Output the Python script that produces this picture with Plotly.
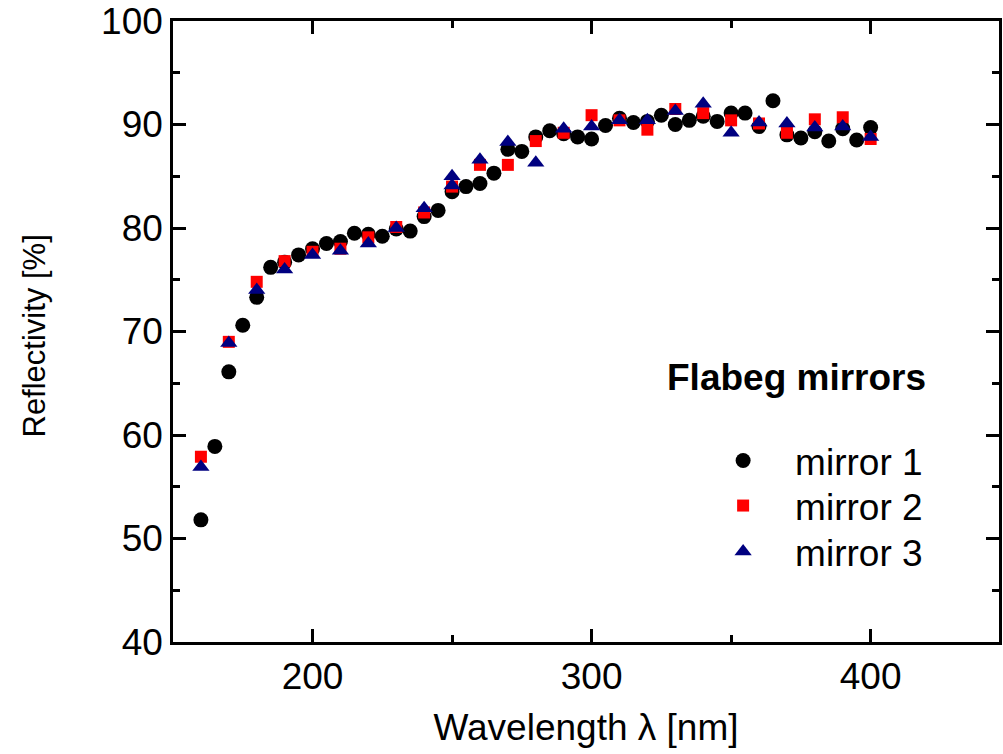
import plotly.graph_objects as go

# Reflectivity measurements of three Flabeg mirrors
wl_m1 = [160, 165, 170, 175, 180, 185, 190, 195, 200, 205, 210, 215, 220, 225,
         230, 235, 240, 245, 250, 255, 260, 265, 270, 275, 280, 285, 290, 295,
         300, 305, 310, 315, 320, 325, 330, 335, 340, 345, 350, 355, 360, 365,
         370, 375, 380, 385, 390, 395, 400]
refl_m1 = [51.8, 58.9, 66.1, 70.6, 73.3, 76.2, 76.7, 77.4, 78.0, 78.5, 78.7, 79.5,
           79.4, 79.2, 79.9, 79.7, 81.1, 81.7, 83.5, 84.0, 84.3, 85.3, 87.6, 87.4,
           88.8, 89.4, 89.1, 88.8, 88.6, 89.9, 90.6, 90.2, 90.3, 90.9, 90.0, 90.4,
           90.8, 90.3, 91.1, 91.1, 89.8, 92.3, 89.0, 88.7, 89.3, 88.4, 89.6, 88.5,
           89.7]

wl_m2 = [160, 170, 180, 190, 200, 210, 220, 230, 240, 250, 260, 270, 280, 290,
         300, 310, 320, 330, 340, 350, 360, 370, 380, 390, 400]
refl_m2 = [57.9, 69.0, 74.8, 76.8, 77.7, 78.0, 79.1, 80.1, 81.5, 84.0, 86.1, 86.1,
           88.4, 89.2, 90.9, 90.4, 89.5, 91.5, 91.1, 90.4, 90.1, 89.2, 90.5, 90.7,
           88.6]

wl_m3 = [160, 170, 180, 190, 200, 210, 220, 230, 240, 250, 250, 260, 270, 280,
         290, 300, 310, 320, 330, 340, 350, 360, 370, 380, 390, 400]
refl_m3 = [56.9, 68.9, 74.0, 76.0, 77.4, 77.8, 78.5, 80.0, 81.9, 85.0, 84.1, 86.6,
           88.3, 86.3, 89.6, 89.8, 90.4, 90.4, 91.3, 92.0, 89.2, 90.2, 90.1, 89.7,
           89.8, 88.8]

series = [
    ("mirror 1", wl_m1, refl_m1, "circle", "#000000", 15, "legend"),
    ("mirror 2", wl_m2, refl_m2, "square", "#FF0000", 12, "legend2"),
    ("mirror 3", wl_m3, refl_m3, "triangle-up", "#000080", 15, "legend3"),
]

FONT = "Liberation Sans, Arial, sans-serif"
FS = 37

fig = go.Figure()
for name, xs, ys, sym, col, sz, leg in series:
    fig.add_trace(go.Scatter(
        x=xs, y=ys, mode="markers", name=name, legend=leg,
        marker=dict(symbol=sym, color=col, size=sz, line=dict(width=0)),
    ))

axis_common = dict(
    showline=True, linecolor="black", linewidth=2.5, mirror="allticks",
    ticks="inside", ticklen=13, tickwidth=2.5, tickcolor="black",
    showgrid=False, zeroline=False,
    tickfont=dict(family=FONT, size=FS, color="black"),
)

fig.update_xaxes(
    range=[150, 446], tick0=200, dtick=100,
    minor=dict(ticks="inside", ticklen=7, tickwidth=2.5, tickcolor="black", dtick=50, tick0=150),
    title=dict(text="Wavelength λ [nm]", font=dict(family=FONT, size=FS, color="black"), standoff=18),
    **axis_common,
)
fig.update_yaxes(
    range=[40, 100], tick0=40, dtick=10,
    minor=dict(ticks="inside", ticklen=7, tickwidth=2.5, tickcolor="black", dtick=5),
    **axis_common,
)

# plot area in pixels: x 173..1002, y 21..642
def px(xp):
    return (xp - 173) / 829


def py(yp):
    return (642 - yp) / 621


# vertical axis label
fig.add_annotation(
    text="Reflectivity [%]", xref="paper", yref="paper",
    x=px(33), y=py(336), xanchor="center", yanchor="middle", textangle=-90,
    showarrow=False, font=dict(family=FONT, size=31, color="black"),
)

fig.add_annotation(
    text="<b>Flabeg mirrors</b>", xref="paper", yref="paper",
    x=px(667), y=py(377), xanchor="left", yanchor="middle",
    showarrow=False, font=dict(family=FONT, size=FS, color="black"),
)

legend_style = dict(
    xanchor="left", yanchor="middle",
    font=dict(family=FONT, size=FS, color="black"),
    bgcolor="rgba(0,0,0,0)", borderwidth=0, itemwidth=94,
)

fig.update_layout(
    width=1003, height=754,
    margin=dict(l=173, r=1, t=21, b=112),
    paper_bgcolor="white", plot_bgcolor="white",
    showlegend=True,
    legend=dict(x=px(693), y=py(461), **legend_style),
    legend2=dict(x=px(693), y=py(506), **legend_style),
    legend3=dict(x=px(693), y=py(552), **legend_style),
)

fig.write_html("out.html")
